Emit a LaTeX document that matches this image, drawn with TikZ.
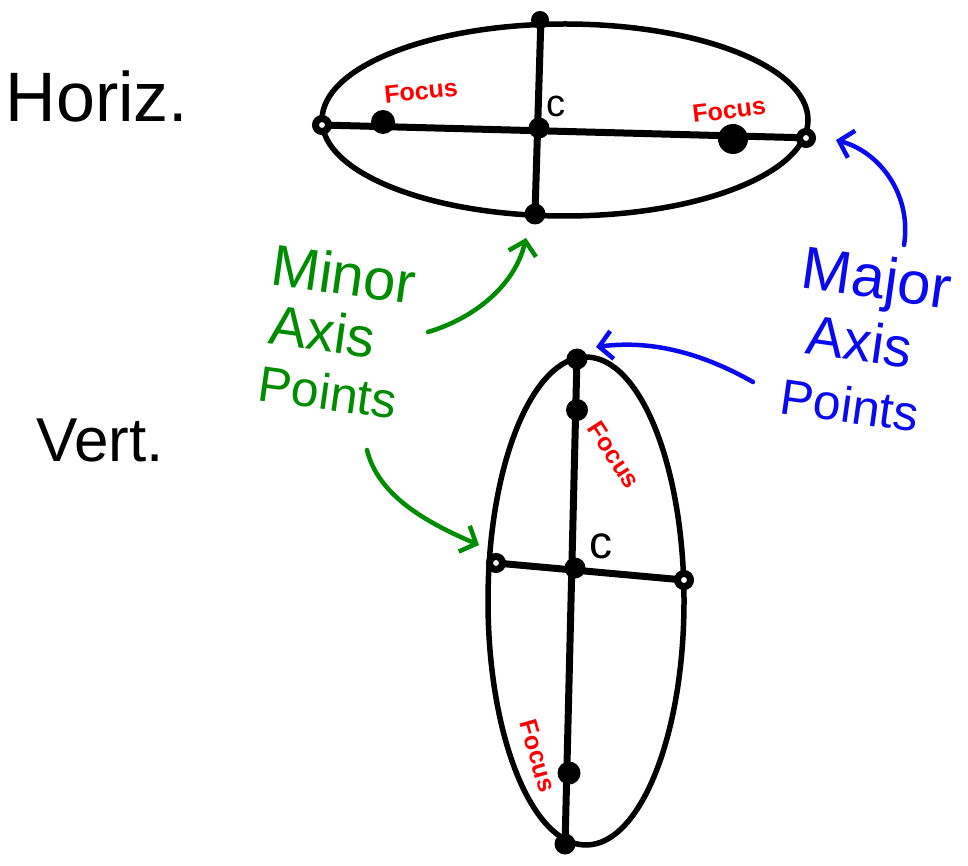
\documentclass[tikz,border=0pt]{standalone}
\usepackage{fontspec}
\setmainfont{Liberation Sans}
\usetikzlibrary{arrows.meta}
\definecolor{hgreen}{RGB}{0,140,0}
\definecolor{hblue}{RGB}{10,10,240}
\definecolor{hred}{RGB}{255,0,0}
\tikzset{
  curve/.style={line width=5.5pt, line cap=round, line join=round},
  axisline/.style={line width=7pt, line cap=round},
  soliddot/.style={circle, fill=black, inner sep=0pt, minimum size=21pt},
  ringdot/.style={circle, draw=black, line width=7pt, fill=white, inner sep=0pt, minimum size=13pt},
  focuslbl/.style={text=hred, font=\bfseries\fontsize{25}{25}\selectfont, inner sep=0pt},
  clbl/.style={font=\fontsize{38}{38}\selectfont, inner sep=0pt},
  biglbl/.style={font=\fontsize{70}{70}\selectfont, inner sep=0pt},
  glbl/.style={text=hgreen, font=\fontsize{58}{58}\selectfont, inner sep=0pt},
  blbl/.style={text=hblue, font=\fontsize{60}{60}\selectfont, inner sep=0pt},
  garrow/.style={draw=hgreen, line width=4.5pt, line cap=round, line join=round, -{Straight Barb[length=13pt,width=28pt]}},
  barrow/.style={draw=hblue, line width=4.5pt, line cap=round, line join=round, -{Straight Barb[length=13pt,width=28pt]}},
}
\begin{document}
\begin{tikzpicture}[x=1pt,y=-1pt]
\useasboundingbox[fill=white] (0,0) rectangle (968,866);

% ---------- horizontal ellipse ----------
\coordinate (hLc) at (322,125);
\coordinate (hRc) at (812,138);
\coordinate (hTc) at (541,16);
\coordinate (hBc) at (535,214);
\draw[axisline] (hLc) -- (hRc);
\draw[axisline] (hTc) -- (hBc);
\draw[curve] (565,120) ellipse [x radius=243, y radius=96];
\node[ringdot] (hL) at (322,125) {};
\node[soliddot, minimum width=24pt, minimum height=19pt] (hF1) at (383,122) {};
\node[soliddot] (hC) at (539,128) {};
\node[soliddot, minimum width=30pt, minimum height=21pt] (hF2) at (733,139) {};
\node[ringdot] (hR) at (806,138) {};
\node[soliddot, minimum size=18pt] (hT) at (540,20) {};
\node[soliddot] (hB) at (535,214) {};
\node[focuslbl, rotate=6] (hfl1) at (421,91) {Focus};
\node[focuslbl, rotate=7] (hfl2) at (729,110) {Focus};
\node[clbl] (hcl) at (556,106) {c};
\node[biglbl] (horiz) at (97,96) {Horiz.};

% ---------- vertical ellipse ----------
\coordinate (vTc) at (577,357);
\coordinate (vBc) at (565,846);
\coordinate (vLc) at (496,563);
\coordinate (vRc) at (684,580);
\draw[axisline] (vTc) -- (vBc);
\draw[axisline] (vLc) -- (vRc);
\draw[curve] (586,601) ellipse [x radius=98, y radius=244];
\node[soliddot] (vT) at (577,359) {};
\node[soliddot, minimum width=22pt, minimum height=19pt] (vF1) at (577,410) {};
\node[soliddot] (vC) at (575,568) {};
\node[ringdot] (vL) at (496,563) {};
\node[ringdot] (vR) at (684,580) {};
\node[soliddot, minimum size=23pt] (vF2) at (569,773) {};
\node[soliddot] (vB) at (565,844) {};
\node[focuslbl, rotate=-57] (vfl1) at (614,455) {Focus};
\node[focuslbl, rotate=-74] (vfl2) at (538,756) {Focus};
\node[clbl, font=\fontsize{46}{46}\selectfont] (vcl) at (601,546) {c};
\node[biglbl, font=\fontsize{62}{62}\selectfont] (vert) at (100,440) {Vert.};

% ---------- green labels ----------
\node[glbl, rotate=-8] (gminor) at (344,274) {Minor};
\node[glbl, rotate=-8, font=\fontsize{56}{56}\selectfont] (gaxis) at (323,331) {Axis};
\node[glbl, rotate=-8, font=\fontsize{50}{50}\selectfont] (gpoints) at (328,392) {Points};
\coordinate (g1s) at (428,332);
\coordinate (g1e) at (526,238);
\coordinate (g2s) at (367,450);
\coordinate (g2e) at (479,545);
\draw[garrow] (g1s) .. controls (475,318) and (515,285) .. (g1e);
\draw[garrow] (g2s) .. controls (378,495) and (425,522) .. (g2e);

% ---------- blue labels ----------
\node[blbl, rotate=-8] (bmajor) at (876,283) {Major};
\node[blbl, rotate=-8, font=\fontsize{56}{56}\selectfont] (baxis) at (860,341) {Axis};
\node[blbl, rotate=-8, font=\fontsize{50}{50}\selectfont] (bpoints) at (850,405) {Points};
\coordinate (b1s) at (904,245);
\coordinate (b1e) at (836,140);
\coordinate (b2s) at (753,382);
\coordinate (b2e) at (596,347);
\draw[barrow] (b1s) .. controls (912,195) and (880,152) .. (b1e);
\draw[barrow] (b2s) .. controls (700,352) and (650,340) .. (b2e);
\end{tikzpicture}
\end{document}
